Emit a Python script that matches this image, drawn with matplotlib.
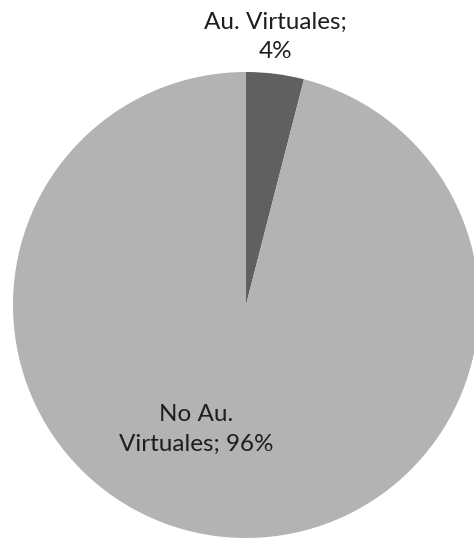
import matplotlib.pyplot as plt

# participacion de aulas virtuales
etiquetas = ["Au. Virtuales;\n4%", "No Au.\nVirtuales; 96%"]
valores = [4, 96]
colores = ["#606060", "#b3b3b3"]

fig = plt.figure(figsize=(4.74, 5.38), dpi=100)
ax = fig.add_axes([0, 0, 1, 1])

ax.pie(valores, colors=colores, startangle=90, counterclock=False,
       radius=1, wedgeprops=dict(linewidth=0))

# etiquetas de datos
ax.text(0.125, 1.15, etiquetas[0], ha="center", va="center",
        fontsize=17.5, family="Lato", color="#1e1e1e", linespacing=1.5)
ax.text(-0.215, -0.535, etiquetas[1], ha="center", va="center",
        fontsize=17.5, family="Lato", color="#1e1e1e", linespacing=1.5)

r = 233.0
ax.set_xlim(-246 / r, (474 - 246) / r)
ax.set_ylim(-233 / r, 305 / r)
ax.set_aspect("auto")
ax.axis("off")

plt.savefig("out.png", dpi=100)
